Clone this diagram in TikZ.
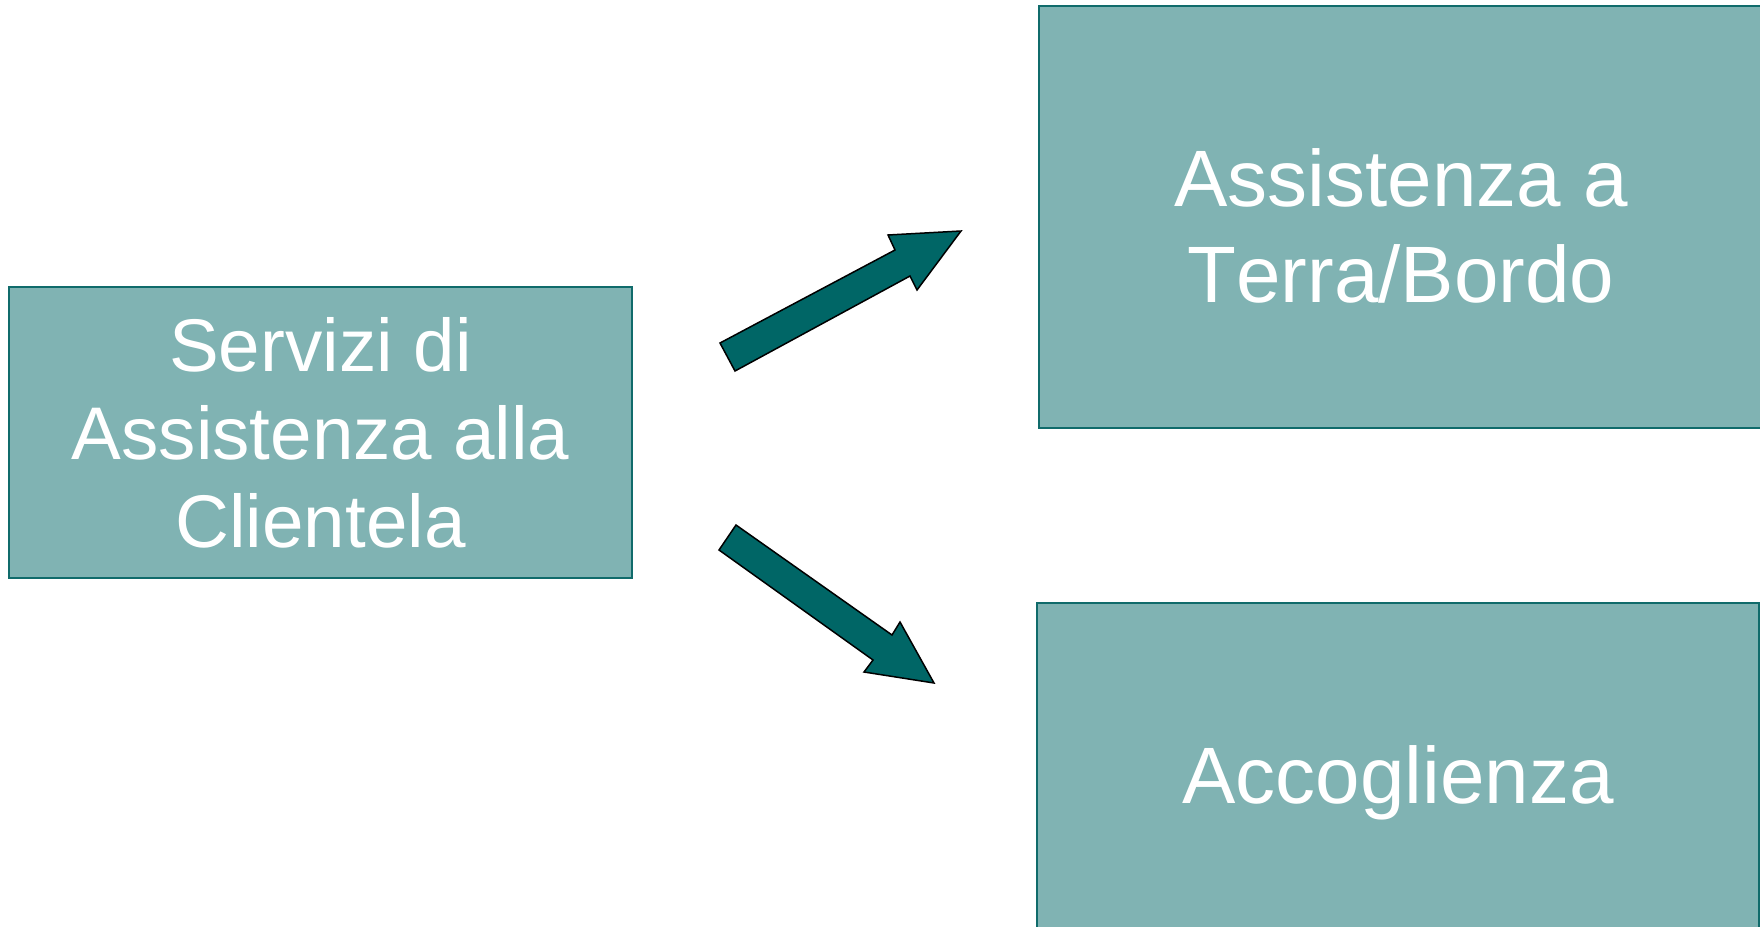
\documentclass[tikz,border=0pt]{standalone}
\usepackage{fontspec}
\setmainfont{Liberation Sans}[Kerning=Off]

\definecolor{boxfill}{HTML}{80B3B3}
\definecolor{boxline}{HTML}{106B6B}
\definecolor{arrowfill}{HTML}{006666}

\begin{document}
\begin{tikzpicture}[x=0.5pt, y=-0.5pt,
        servbox/.style={draw=boxline, fill=boxfill, line width=1pt,
            inner sep=0pt, outer sep=0pt, align=center, text=white},
        bigarrow/.style={draw=black, fill=arrowfill, line width=0.75pt}]
        \useasboundingbox (0,0) rectangle (1760,926);

        \node (Serv) [servbox, minimum width=311.5pt, minimum height=145.5pt,
            font=\fontsize{37.3}{44}\selectfont]
            at (320.5,432.5) {Servizi di\\Assistenza alla\\Clientela};
        \node (Terra) [servbox, minimum width=362pt, minimum height=211pt,
            label={[align=center, text=white, yshift=-4.5pt,
                font=\fontsize{40}{47.7}\selectfont]center:{Assistenza a\\Terra/Bordo}}]
            at (1401,217) {};
        \node (Accog) [servbox, minimum width=361pt, minimum height=180pt,
            font=\fontsize{40}{47.7}\selectfont]
            at (1398,783) {Accoglienza};

        % freccia verso Terra/Bordo
        \filldraw[bigarrow] (720,343) -- (895,250) -- (888,235) -- (961,231)
            -- (917,290) -- (910,276) -- (735,371) -- cycle;
        % freccia verso Accoglienza
        \filldraw[bigarrow] (736,525) -- (892,635) -- (900,622) -- (934,683)
            -- (864,672) -- (873,660) -- (719,550) -- cycle;
    \end{tikzpicture}
\end{document}
